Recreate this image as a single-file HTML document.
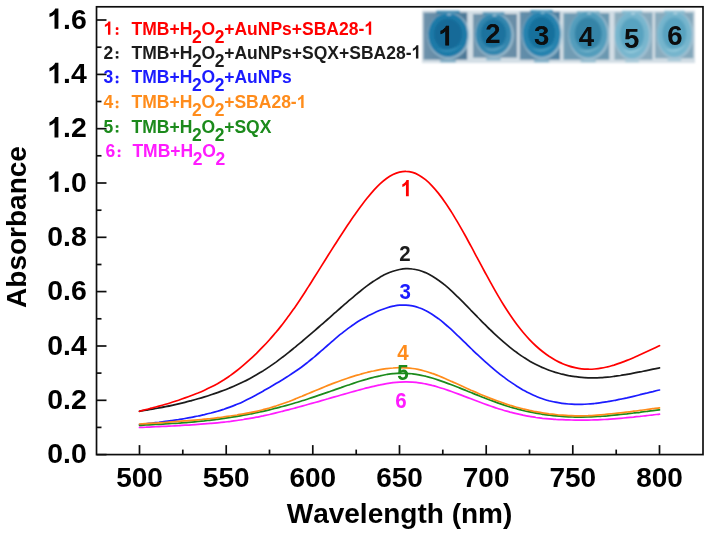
<!DOCTYPE html>
<html><head><meta charset="utf-8"><title>Absorbance spectra</title>
<style>
html,body{margin:0;padding:0;background:#fff;}
body{width:709px;height:534px;overflow:hidden;font-family:"Liberation Sans",sans-serif;}
svg{display:block;}
svg text{font-family:"Liberation Sans",sans-serif;font-weight:bold;}
</style></head><body>
<svg width="709" height="534" viewBox="0 0 709 534">
<defs>
<filter id="soft" x="-5%" y="-5%" width="110%" height="110%"><feGaussianBlur stdDeviation="0.55"/></filter>
<filter id="soft2" x="-5%" y="-5%" width="110%" height="110%"><feGaussianBlur stdDeviation="0.9"/></filter>
<radialGradient id="liqD" cx="50%" cy="55%" r="55%"><stop offset="0" stop-color="#1c7aa6"/><stop offset="0.6" stop-color="#1f83b0"/><stop offset="0.85" stop-color="#2a8db8"/><stop offset="1" stop-color="#4d9cc0"/></radialGradient>
<radialGradient id="liqL" cx="50%" cy="55%" r="55%"><stop offset="0" stop-color="#3d93b6"/><stop offset="0.6" stop-color="#4a9fc0"/><stop offset="0.85" stop-color="#5faccb"/><stop offset="1" stop-color="#86bcd2"/></radialGradient>
</defs>
<rect x="0" y="0" width="709" height="534" fill="#ffffff"/>

<g id="inset" filter="url(#soft2)">
<rect x="422" y="10.5" width="273" height="52.5" fill="#d3dee5"/>
<linearGradient id="bx0" x1="0" x2="1" y1="0" y2="0"><stop offset="0" stop-color="#6f93ac"/><stop offset="1" stop-color="#4a7695"/></linearGradient>
<radialGradient id="lq0" cx="50%" cy="48%" r="52%"><stop offset="0" stop-color="#136a98"/><stop offset="0.62" stop-color="#136a98"/><stop offset="0.74" stop-color="#1f7aa8"/><stop offset="1" stop-color="#1f7aa8"/></radialGradient>
<rect x="423.4" y="12.5" width="43.8" height="47.2" fill="url(#bx0)"/>
<rect x="436.1" y="10.7" width="23.8" height="3" fill="#1f7aa8" opacity="0.8"/>
<rect x="440.1" y="60.3" width="15.8" height="2" fill="#1f7aa8" opacity="0.55"/>
<ellipse cx="448.8" cy="35.8" rx="21.4" ry="23.4" fill="#a9c9da" opacity="0.7"/>
<ellipse cx="448.0" cy="35.0" rx="19.8" ry="22.0" fill="url(#lq0)"/>
<path d="M437.1,48.6 Q448.0,56.6 461.9,44.9 Q448.0,52.6 437.1,48.6 Z" fill="#3f9ac2" opacity="0.75"/>
<rect x="447.0" y="14.2" width="4" height="1" fill="#e8f2f7" opacity="0.8"/>
<linearGradient id="bx1" x1="0" x2="1" y1="0" y2="0"><stop offset="0" stop-color="#7195ad"/><stop offset="1" stop-color="#688da6"/></linearGradient>
<radialGradient id="lq1" cx="50%" cy="48%" r="52%"><stop offset="0" stop-color="#1a729e"/><stop offset="0.62" stop-color="#1a729e"/><stop offset="0.74" stop-color="#3386ae"/><stop offset="1" stop-color="#3386ae"/></radialGradient>
<rect x="473.0" y="14.0" width="44.0" height="43.6" fill="url(#bx1)"/>
<rect x="482.7" y="12.2" width="21.6" height="3" fill="#3386ae" opacity="0.8"/>
<rect x="486.3" y="58.2" width="14.4" height="2" fill="#3386ae" opacity="0.55"/>
<ellipse cx="494.3" cy="35.3" rx="19.6" ry="22.2" fill="#a9c9da" opacity="0.7"/>
<ellipse cx="493.5" cy="34.5" rx="18.0" ry="20.8" fill="url(#lq1)"/>
<path d="M483.6,47.4 Q493.5,54.9 506.1,43.9 Q493.5,51.1 483.6,47.4 Z" fill="#6aaccb" opacity="0.75"/>
<rect x="492.5" y="14.9" width="4" height="1" fill="#e8f2f7" opacity="0.8"/>
<linearGradient id="bx2" x1="0" x2="1" y1="0" y2="0"><stop offset="0" stop-color="#648eaa"/><stop offset="1" stop-color="#4b7fa0"/></linearGradient>
<radialGradient id="lq2" cx="50%" cy="48%" r="52%"><stop offset="0" stop-color="#17709c"/><stop offset="0.62" stop-color="#17709c"/><stop offset="0.74" stop-color="#2583af"/><stop offset="1" stop-color="#2583af"/></radialGradient>
<rect x="519.8" y="11.8" width="40.2" height="47.9" fill="url(#bx2)"/>
<rect x="530.2" y="10.0" width="22.8" height="3" fill="#2583af" opacity="0.8"/>
<rect x="534.0" y="60.3" width="15.2" height="2" fill="#2583af" opacity="0.55"/>
<ellipse cx="542.4" cy="34.8" rx="20.6" ry="24.2" fill="#a9c9da" opacity="0.7"/>
<ellipse cx="541.6" cy="34.0" rx="19.0" ry="22.8" fill="url(#lq2)"/>
<path d="M531.1,48.1 Q541.6,56.3 554.9,44.3 Q541.6,52.2 531.1,48.1 Z" fill="#58a9ca" opacity="0.75"/>
<rect x="540.6" y="12.4" width="4" height="1" fill="#e8f2f7" opacity="0.8"/>
<linearGradient id="bx3" x1="0" x2="1" y1="0" y2="0"><stop offset="0" stop-color="#719cb4"/><stop offset="1" stop-color="#6a97b0"/></linearGradient>
<radialGradient id="lq3" cx="50%" cy="48%" r="52%"><stop offset="0" stop-color="#3484a7"/><stop offset="0.62" stop-color="#3484a7"/><stop offset="0.74" stop-color="#529dbc"/><stop offset="1" stop-color="#529dbc"/></radialGradient>
<rect x="563.5" y="13.2" width="45.8" height="46.5" fill="url(#bx3)"/>
<rect x="576.8" y="11.4" width="22.8" height="3" fill="#529dbc" opacity="0.8"/>
<rect x="580.6" y="60.3" width="15.2" height="2" fill="#529dbc" opacity="0.55"/>
<ellipse cx="589.0" cy="35.4" rx="20.6" ry="24.4" fill="#a9c9da" opacity="0.7"/>
<ellipse cx="588.2" cy="34.6" rx="19.0" ry="23.0" fill="url(#lq3)"/>
<path d="M577.8,48.9 Q588.2,57.1 601.5,45.0 Q588.2,53.0 577.8,48.9 Z" fill="#80bdd3" opacity="0.75"/>
<rect x="587.2" y="12.8" width="4" height="1" fill="#e8f2f7" opacity="0.8"/>
<linearGradient id="bx4" x1="0" x2="1" y1="0" y2="0"><stop offset="0" stop-color="#8dadbe"/><stop offset="1" stop-color="#86a8bb"/></linearGradient>
<radialGradient id="lq4" cx="50%" cy="48%" r="52%"><stop offset="0" stop-color="#58a3c0"/><stop offset="0.62" stop-color="#58a3c0"/><stop offset="0.74" stop-color="#78b6ce"/><stop offset="1" stop-color="#78b6ce"/></radialGradient>
<rect x="614.5" y="12.5" width="38.0" height="47.2" fill="url(#bx4)"/>
<rect x="621.8" y="10.7" width="20.4" height="3" fill="#78b6ce" opacity="0.8"/>
<rect x="625.2" y="60.3" width="13.6" height="2" fill="#78b6ce" opacity="0.55"/>
<ellipse cx="632.8" cy="36.0" rx="18.6" ry="24.6" fill="#a9c9da" opacity="0.7"/>
<ellipse cx="632.0" cy="35.2" rx="17.0" ry="23.2" fill="url(#lq4)"/>
<path d="M622.6,49.6 Q632.0,57.9 643.9,45.6 Q632.0,53.8 622.6,49.6 Z" fill="#a2d4e3" opacity="0.75"/>
<rect x="631.0" y="13.2" width="4" height="1" fill="#e8f2f7" opacity="0.8"/>
<linearGradient id="bx5" x1="0" x2="1" y1="0" y2="0"><stop offset="0" stop-color="#8aacbe"/><stop offset="1" stop-color="#82a6ba"/></linearGradient>
<radialGradient id="lq5" cx="50%" cy="48%" r="52%"><stop offset="0" stop-color="#59a3c0"/><stop offset="0.62" stop-color="#59a3c0"/><stop offset="0.74" stop-color="#76b5cd"/><stop offset="1" stop-color="#76b5cd"/></radialGradient>
<rect x="655.0" y="12.5" width="38.4" height="45.8" fill="url(#bx5)"/>
<rect x="664.2" y="10.7" width="20.4" height="3" fill="#76b5cd" opacity="0.8"/>
<rect x="667.6" y="58.9" width="13.6" height="2" fill="#76b5cd" opacity="0.55"/>
<ellipse cx="675.2" cy="35.1" rx="18.6" ry="24.0" fill="#a9c9da" opacity="0.7"/>
<ellipse cx="674.4" cy="34.3" rx="17.0" ry="22.6" fill="url(#lq5)"/>
<path d="M665.0,48.3 Q674.4,56.4 686.3,44.5 Q674.4,52.4 665.0,48.3 Z" fill="#a2d4e3" opacity="0.75"/>
<rect x="673.4" y="12.9" width="4" height="1" fill="#e8f2f7" opacity="0.8"/>
</g>
<g filter="url(#soft)">
<path d="M449.08,45.60 L445.30,45.60 L445.30,31.38 Q443.23,33.31 440.43,34.24 L440.43,30.82 Q441.91,30.33 443.64,28.98 Q445.37,27.63 446.01,25.83 L449.08,25.83 Z" fill="#080808"/>
<text x="485.15" y="42.90" font-size="27.5" fill="#080808">2</text>
<text x="533.95" y="45.00" font-size="27.5" fill="#080808">3</text>
<text x="578.75" y="45.70" font-size="27.5" fill="#080808">4</text>
<text x="624.05" y="47.70" font-size="27.5" fill="#080808">5</text>
<text x="667.15" y="45.00" font-size="27.5" fill="#080808">6</text>
</g>
<g filter="url(#soft)">
<g stroke="#111" stroke-width="1.7" fill="none" stroke-linecap="butt">
<rect x="96.5" y="6.8" width="606.5" height="447.8"/>
<line x1="139.5" y1="454.6" x2="139.5" y2="445.1"/>
<line x1="182.8" y1="454.6" x2="182.8" y2="449.6"/>
<line x1="226.2" y1="454.6" x2="226.2" y2="445.1"/>
<line x1="269.5" y1="454.6" x2="269.5" y2="449.6"/>
<line x1="312.8" y1="454.6" x2="312.8" y2="445.1"/>
<line x1="356.2" y1="454.6" x2="356.2" y2="449.6"/>
<line x1="399.5" y1="454.6" x2="399.5" y2="445.1"/>
<line x1="442.8" y1="454.6" x2="442.8" y2="449.6"/>
<line x1="486.2" y1="454.6" x2="486.2" y2="445.1"/>
<line x1="529.5" y1="454.6" x2="529.5" y2="449.6"/>
<line x1="572.8" y1="454.6" x2="572.8" y2="445.1"/>
<line x1="616.2" y1="454.6" x2="616.2" y2="449.6"/>
<line x1="659.5" y1="454.6" x2="659.5" y2="445.1"/>
<line x1="96.5" y1="454.6" x2="106.5" y2="454.6"/>
<line x1="96.5" y1="427.4" x2="101.5" y2="427.4"/>
<line x1="96.5" y1="400.3" x2="106.5" y2="400.3"/>
<line x1="96.5" y1="373.1" x2="101.5" y2="373.1"/>
<line x1="96.5" y1="346.0" x2="106.5" y2="346.0"/>
<line x1="96.5" y1="318.8" x2="101.5" y2="318.8"/>
<line x1="96.5" y1="291.6" x2="106.5" y2="291.6"/>
<line x1="96.5" y1="264.5" x2="101.5" y2="264.5"/>
<line x1="96.5" y1="237.3" x2="106.5" y2="237.3"/>
<line x1="96.5" y1="210.2" x2="101.5" y2="210.2"/>
<line x1="96.5" y1="183.0" x2="106.5" y2="183.0"/>
<line x1="96.5" y1="155.8" x2="101.5" y2="155.8"/>
<line x1="96.5" y1="128.7" x2="106.5" y2="128.7"/>
<line x1="96.5" y1="101.5" x2="101.5" y2="101.5"/>
<line x1="96.5" y1="74.4" x2="106.5" y2="74.4"/>
<line x1="96.5" y1="47.2" x2="101.5" y2="47.2"/>
<line x1="96.5" y1="20.0" x2="106.5" y2="20.0"/>
</g>
<g fill="none" stroke-width="1.7" stroke-linejoin="round" stroke-linecap="round">
<path stroke="#1a1a1a" d="M139.5,411.3 C140.6,411.1 143.8,410.6 146.0,410.2 C148.2,409.8 150.3,409.4 152.5,409.1 C154.7,408.7 156.8,408.3 159.0,407.9 C161.2,407.5 163.3,407.1 165.5,406.6 C167.7,406.2 169.8,405.8 172.0,405.3 C174.2,404.8 176.3,404.3 178.5,403.8 C180.7,403.3 182.8,402.8 185.0,402.3 C187.2,401.8 189.3,401.2 191.5,400.6 C193.7,400.1 195.8,399.5 198.0,398.8 C200.2,398.2 202.3,397.6 204.5,396.9 C206.7,396.3 208.8,395.6 211.0,394.8 C213.2,394.1 215.3,393.4 217.5,392.6 C219.7,391.8 221.8,391.0 224.0,390.2 C226.2,389.4 228.3,388.5 230.5,387.6 C232.7,386.7 234.8,385.8 237.0,384.8 C239.2,383.8 241.3,382.8 243.5,381.7 C245.7,380.7 247.8,379.6 250.0,378.4 C252.2,377.3 254.3,376.1 256.5,374.8 C258.7,373.5 260.8,372.2 263.0,370.9 C265.2,369.5 267.3,368.1 269.5,366.6 C271.7,365.1 273.8,363.6 276.0,362.1 C278.2,360.5 280.3,358.9 282.5,357.2 C284.7,355.6 286.8,353.9 289.0,352.1 C291.2,350.4 293.3,348.6 295.5,346.9 C297.7,345.1 299.8,343.3 302.0,341.5 C304.2,339.6 306.3,337.8 308.5,335.9 C310.7,334.1 312.8,332.2 315.0,330.3 C317.2,328.5 319.3,326.6 321.5,324.7 C323.7,322.8 325.8,320.9 328.0,319.0 C330.2,317.1 332.3,315.1 334.5,313.2 C336.7,311.3 338.8,309.4 341.0,307.5 C343.2,305.6 345.3,303.7 347.5,301.8 C349.7,300.0 351.8,298.1 354.0,296.3 C356.2,294.5 358.3,292.7 360.5,291.0 C362.7,289.2 364.8,287.5 367.0,285.9 C369.2,284.3 371.3,282.8 373.5,281.3 C375.7,279.9 377.8,278.5 380.0,277.2 C382.2,276.0 384.3,274.8 386.5,273.8 C388.7,272.8 390.8,271.9 393.0,271.2 C395.2,270.5 397.3,269.9 399.5,269.5 C401.7,269.1 403.8,268.8 406.0,268.7 C408.2,268.6 410.3,268.7 412.5,269.0 C414.7,269.2 416.8,269.7 419.0,270.3 C421.2,270.9 423.3,271.7 425.5,272.6 C427.7,273.6 429.8,274.7 432.0,275.9 C434.2,277.2 436.3,278.6 438.5,280.2 C440.7,281.7 442.8,283.4 445.0,285.2 C447.2,287.0 449.3,288.9 451.5,290.9 C453.7,292.9 455.8,295.0 458.0,297.1 C460.2,299.2 462.3,301.4 464.5,303.6 C466.7,305.8 468.8,308.0 471.0,310.3 C473.2,312.5 475.3,314.7 477.5,317.0 C479.7,319.2 481.8,321.4 484.0,323.6 C486.2,325.7 488.3,327.9 490.5,330.0 C492.7,332.0 494.8,334.1 497.0,336.1 C499.2,338.1 501.3,340.0 503.5,341.9 C505.7,343.8 507.8,345.6 510.0,347.3 C512.2,349.1 514.3,350.8 516.5,352.3 C518.7,353.9 520.8,355.5 523.0,356.9 C525.2,358.3 527.3,359.7 529.5,361.0 C531.7,362.2 533.8,363.4 536.0,364.5 C538.2,365.6 540.3,366.7 542.5,367.6 C544.7,368.6 546.8,369.4 549.0,370.2 C551.2,371.0 553.3,371.7 555.5,372.4 C557.7,373.0 559.8,373.6 562.0,374.2 C564.2,374.7 566.3,375.1 568.5,375.6 C570.7,376.0 572.8,376.3 575.0,376.6 C577.2,376.9 579.3,377.2 581.5,377.4 C583.7,377.6 585.8,377.7 588.0,377.8 C590.2,377.9 592.3,377.9 594.5,377.9 C596.7,377.9 598.8,377.8 601.0,377.7 C603.2,377.5 605.3,377.4 607.5,377.2 C609.7,377.0 611.8,376.7 614.0,376.4 C616.2,376.1 618.3,375.8 620.5,375.5 C622.7,375.1 624.8,374.8 627.0,374.4 C629.2,374.0 631.3,373.6 633.5,373.2 C635.7,372.8 637.8,372.4 640.0,371.9 C642.2,371.5 644.3,371.0 646.5,370.6 C648.7,370.2 650.8,369.7 653.0,369.2 C655.2,368.8 658.4,368.1 659.5,367.9"/>
<path stroke="#ff0000" d="M139.5,411.2 C140.6,410.9 143.8,410.1 146.0,409.5 C148.2,409.0 150.3,408.4 152.5,407.9 C154.7,407.3 156.8,406.7 159.0,406.1 C161.2,405.5 163.3,404.9 165.5,404.3 C167.7,403.7 169.8,403.0 172.0,402.3 C174.2,401.6 176.3,400.9 178.5,400.2 C180.7,399.4 182.8,398.7 185.0,397.9 C187.2,397.1 189.3,396.3 191.5,395.5 C193.7,394.7 195.8,393.8 198.0,393.0 C200.2,392.1 202.3,391.2 204.5,390.2 C206.7,389.2 208.8,388.2 211.0,387.1 C213.2,386.0 215.3,384.9 217.5,383.7 C219.7,382.4 221.8,381.1 224.0,379.8 C226.2,378.4 228.3,376.9 230.5,375.4 C232.7,373.8 234.8,372.2 237.0,370.5 C239.2,368.8 241.3,367.0 243.5,365.1 C245.7,363.3 247.8,361.4 250.0,359.4 C252.2,357.4 254.3,355.4 256.5,353.3 C258.7,351.1 260.8,349.0 263.0,346.7 C265.2,344.5 267.3,342.2 269.5,339.7 C271.7,337.3 273.8,334.8 276.0,332.3 C278.2,329.7 280.3,327.0 282.5,324.2 C284.7,321.4 286.8,318.5 289.0,315.6 C291.2,312.6 293.3,309.5 295.5,306.4 C297.7,303.2 299.8,300.0 302.0,296.7 C304.2,293.4 306.3,290.0 308.5,286.6 C310.7,283.2 312.8,279.7 315.0,276.3 C317.2,272.8 319.3,269.4 321.5,265.9 C323.7,262.4 325.8,259.0 328.0,255.5 C330.2,252.1 332.3,248.7 334.5,245.3 C336.7,241.9 338.8,238.5 341.0,235.2 C343.2,231.9 345.3,228.6 347.5,225.3 C349.7,222.1 351.8,218.9 354.0,215.8 C356.2,212.7 358.3,209.7 360.5,206.7 C362.7,203.8 364.8,201.0 367.0,198.3 C369.2,195.6 371.3,193.0 373.5,190.6 C375.7,188.2 377.8,185.9 380.0,183.9 C382.2,181.9 384.3,180.1 386.5,178.5 C388.7,176.9 390.8,175.6 393.0,174.5 C395.2,173.4 397.3,172.6 399.5,172.1 C401.7,171.6 403.8,171.3 406.0,171.4 C408.2,171.4 410.3,171.8 412.5,172.4 C414.7,173.0 416.8,174.0 419.0,175.2 C421.2,176.4 423.3,177.9 425.5,179.7 C427.7,181.5 429.8,183.5 432.0,185.8 C434.2,188.1 436.3,190.6 438.5,193.4 C440.7,196.1 442.8,199.1 445.0,202.2 C447.2,205.3 449.3,208.7 451.5,212.1 C453.7,215.6 455.8,219.2 458.0,222.9 C460.2,226.6 462.3,230.5 464.5,234.3 C466.7,238.2 468.8,242.2 471.0,246.2 C473.2,250.2 475.3,254.3 477.5,258.4 C479.7,262.4 481.8,266.5 484.0,270.5 C486.2,274.5 488.3,278.5 490.5,282.4 C492.7,286.3 494.8,290.2 497.0,293.9 C499.2,297.6 501.3,301.3 503.5,304.8 C505.7,308.3 507.8,311.6 510.0,314.8 C512.2,318.1 514.3,321.1 516.5,324.1 C518.7,327.0 520.8,329.7 523.0,332.3 C525.2,334.9 527.3,337.3 529.5,339.6 C531.7,341.9 533.8,344.0 536.0,346.0 C538.2,348.0 540.3,349.8 542.5,351.5 C544.7,353.2 546.8,354.8 549.0,356.3 C551.2,357.7 553.3,359.0 555.5,360.2 C557.7,361.4 559.8,362.5 562.0,363.4 C564.2,364.4 566.3,365.2 568.5,365.9 C570.7,366.7 572.8,367.2 575.0,367.7 C577.2,368.2 579.3,368.6 581.5,368.8 C583.7,369.1 585.8,369.2 588.0,369.2 C590.2,369.3 592.3,369.2 594.5,369.0 C596.7,368.8 598.8,368.6 601.0,368.2 C603.2,367.9 605.3,367.4 607.5,366.9 C609.7,366.4 611.8,365.7 614.0,365.1 C616.2,364.4 618.3,363.7 620.5,362.9 C622.7,362.1 624.8,361.3 627.0,360.4 C629.2,359.6 631.3,358.7 633.5,357.7 C635.7,356.8 637.8,355.8 640.0,354.8 C642.2,353.8 644.3,352.8 646.5,351.8 C648.7,350.8 650.8,349.8 653.0,348.8 C655.2,347.8 658.4,346.2 659.5,345.7"/>
<path stroke="#1a1aff" d="M139.5,424.5 C140.6,424.4 143.8,424.0 146.0,423.8 C148.2,423.5 150.3,423.3 152.5,423.0 C154.7,422.8 156.8,422.5 159.0,422.3 C161.2,422.0 163.3,421.7 165.5,421.4 C167.7,421.2 169.8,420.9 172.0,420.6 C174.2,420.2 176.3,419.9 178.5,419.6 C180.7,419.2 182.8,418.9 185.0,418.5 C187.2,418.1 189.3,417.7 191.5,417.3 C193.7,416.9 195.8,416.4 198.0,416.0 C200.2,415.5 202.3,415.1 204.5,414.6 C206.7,414.0 208.8,413.5 211.0,413.0 C213.2,412.4 215.3,411.8 217.5,411.2 C219.7,410.6 221.8,409.9 224.0,409.2 C226.2,408.5 228.3,407.7 230.5,406.9 C232.7,406.1 234.8,405.2 237.0,404.3 C239.2,403.4 241.3,402.5 243.5,401.4 C245.7,400.4 247.8,399.4 250.0,398.3 C252.2,397.2 254.3,396.0 256.5,394.8 C258.7,393.6 260.8,392.4 263.0,391.2 C265.2,390.0 267.3,388.7 269.5,387.5 C271.7,386.2 273.8,384.9 276.0,383.6 C278.2,382.3 280.3,381.0 282.5,379.7 C284.7,378.4 286.8,377.0 289.0,375.6 C291.2,374.2 293.3,372.8 295.5,371.3 C297.7,369.8 299.8,368.3 302.0,366.7 C304.2,365.1 306.3,363.4 308.5,361.7 C310.7,359.9 312.8,358.1 315.0,356.3 C317.2,354.5 319.3,352.6 321.5,350.7 C323.7,348.8 325.8,346.9 328.0,345.0 C330.2,343.1 332.3,341.2 334.5,339.3 C336.7,337.5 338.8,335.6 341.0,333.9 C343.2,332.2 345.3,330.5 347.5,328.9 C349.7,327.3 351.8,325.7 354.0,324.3 C356.2,322.8 358.3,321.4 360.5,320.1 C362.7,318.8 364.8,317.6 367.0,316.4 C369.2,315.3 371.3,314.2 373.5,313.2 C375.7,312.1 377.8,311.2 380.0,310.3 C382.2,309.4 384.3,308.7 386.5,308.0 C388.7,307.3 390.8,306.7 393.0,306.2 C395.2,305.8 397.3,305.4 399.5,305.2 C401.7,305.1 403.8,305.0 406.0,305.1 C408.2,305.2 410.3,305.5 412.5,305.9 C414.7,306.3 416.8,306.9 419.0,307.7 C421.2,308.4 423.3,309.4 425.5,310.5 C427.7,311.5 429.8,312.8 432.0,314.2 C434.2,315.6 436.3,317.1 438.5,318.7 C440.7,320.4 442.8,322.1 445.0,324.0 C447.2,325.8 449.3,327.8 451.5,329.7 C453.7,331.7 455.8,333.8 458.0,335.9 C460.2,337.9 462.3,340.1 464.5,342.2 C466.7,344.3 468.8,346.4 471.0,348.5 C473.2,350.6 475.3,352.7 477.5,354.7 C479.7,356.7 481.8,358.7 484.0,360.7 C486.2,362.6 488.3,364.6 490.5,366.4 C492.7,368.3 494.8,370.1 497.0,371.8 C499.2,373.6 501.3,375.3 503.5,376.9 C505.7,378.5 507.8,380.1 510.0,381.6 C512.2,383.1 514.3,384.6 516.5,386.0 C518.7,387.3 520.8,388.6 523.0,389.9 C525.2,391.1 527.3,392.3 529.5,393.3 C531.7,394.4 533.8,395.4 536.0,396.3 C538.2,397.2 540.3,398.1 542.5,398.8 C544.7,399.5 546.8,400.2 549.0,400.8 C551.2,401.3 553.3,401.8 555.5,402.2 C557.7,402.7 559.8,403.0 562.0,403.3 C564.2,403.6 566.3,403.8 568.5,404.0 C570.7,404.1 572.8,404.2 575.0,404.3 C577.2,404.4 579.3,404.3 581.5,404.3 C583.7,404.3 585.8,404.2 588.0,404.0 C590.2,403.9 592.3,403.7 594.5,403.5 C596.7,403.2 598.8,403.0 601.0,402.7 C603.2,402.4 605.3,402.0 607.5,401.7 C609.7,401.3 611.8,400.9 614.0,400.5 C616.2,400.1 618.3,399.6 620.5,399.2 C622.7,398.7 624.8,398.2 627.0,397.8 C629.2,397.3 631.3,396.8 633.5,396.3 C635.7,395.8 637.8,395.3 640.0,394.7 C642.2,394.2 644.3,393.7 646.5,393.2 C648.7,392.6 650.8,392.1 653.0,391.6 C655.2,391.0 658.4,390.2 659.5,390.0"/>
<path stroke="#ff1aff" d="M139.5,427.4 C140.6,427.4 143.8,427.2 146.0,427.2 C148.2,427.1 150.3,427.0 152.5,426.9 C154.7,426.8 156.8,426.7 159.0,426.6 C161.2,426.5 163.3,426.4 165.5,426.3 C167.7,426.2 169.8,426.1 172.0,426.0 C174.2,425.8 176.3,425.7 178.5,425.6 C180.7,425.5 182.8,425.3 185.0,425.2 C187.2,425.1 189.3,425.0 191.5,424.8 C193.7,424.7 195.8,424.6 198.0,424.4 C200.2,424.3 202.3,424.1 204.5,423.9 C206.7,423.8 208.8,423.6 211.0,423.4 C213.2,423.2 215.3,423.0 217.5,422.8 C219.7,422.6 221.8,422.4 224.0,422.1 C226.2,421.9 228.3,421.6 230.5,421.4 C232.7,421.1 234.8,420.8 237.0,420.5 C239.2,420.2 241.3,419.8 243.5,419.5 C245.7,419.1 247.8,418.8 250.0,418.4 C252.2,418.0 254.3,417.6 256.5,417.2 C258.7,416.8 260.8,416.3 263.0,415.9 C265.2,415.4 267.3,414.9 269.5,414.5 C271.7,414.0 273.8,413.5 276.0,412.9 C278.2,412.4 280.3,411.9 282.5,411.3 C284.7,410.8 286.8,410.2 289.0,409.6 C291.2,409.1 293.3,408.5 295.5,407.9 C297.7,407.3 299.8,406.7 302.0,406.1 C304.2,405.5 306.3,404.9 308.5,404.3 C310.7,403.7 312.8,403.1 315.0,402.5 C317.2,401.9 319.3,401.3 321.5,400.6 C323.7,400.0 325.8,399.4 328.0,398.8 C330.2,398.1 332.3,397.5 334.5,396.9 C336.7,396.3 338.8,395.7 341.0,395.0 C343.2,394.4 345.3,393.8 347.5,393.2 C349.7,392.6 351.8,392.0 354.0,391.4 C356.2,390.8 358.3,390.2 360.5,389.6 C362.7,389.0 364.8,388.5 367.0,387.9 C369.2,387.4 371.3,386.8 373.5,386.3 C375.7,385.8 377.8,385.3 380.0,384.9 C382.2,384.4 384.3,384.0 386.5,383.6 C388.7,383.3 390.8,383.0 393.0,382.7 C395.2,382.4 397.3,382.2 399.5,382.1 C401.7,382.0 403.8,381.9 406.0,381.9 C408.2,381.9 410.3,382.0 412.5,382.1 C414.7,382.3 416.8,382.5 419.0,382.8 C421.2,383.1 423.3,383.5 425.5,383.9 C427.7,384.3 429.8,384.8 432.0,385.4 C434.2,385.9 436.3,386.5 438.5,387.2 C440.7,387.8 442.8,388.5 445.0,389.2 C447.2,390.0 449.3,390.7 451.5,391.5 C453.7,392.3 455.8,393.1 458.0,393.9 C460.2,394.7 462.3,395.5 464.5,396.4 C466.7,397.2 468.8,398.0 471.0,398.8 C473.2,399.7 475.3,400.5 477.5,401.3 C479.7,402.1 481.8,402.9 484.0,403.7 C486.2,404.5 488.3,405.2 490.5,406.0 C492.7,406.7 494.8,407.5 497.0,408.2 C499.2,408.9 501.3,409.5 503.5,410.2 C505.7,410.8 507.8,411.5 510.0,412.1 C512.2,412.6 514.3,413.2 516.5,413.7 C518.7,414.2 520.8,414.7 523.0,415.2 C525.2,415.6 527.3,416.0 529.5,416.4 C531.7,416.8 533.8,417.1 536.0,417.5 C538.2,417.8 540.3,418.0 542.5,418.3 C544.7,418.5 546.8,418.7 549.0,418.9 C551.2,419.1 553.3,419.2 555.5,419.4 C557.7,419.5 559.8,419.6 562.0,419.7 C564.2,419.8 566.3,419.9 568.5,419.9 C570.7,420.0 572.8,420.0 575.0,420.1 C577.2,420.1 579.3,420.1 581.5,420.1 C583.7,420.1 585.8,420.1 588.0,420.1 C590.2,420.0 592.3,420.0 594.5,419.9 C596.7,419.8 598.8,419.8 601.0,419.7 C603.2,419.6 605.3,419.4 607.5,419.3 C609.7,419.2 611.8,419.0 614.0,418.8 C616.2,418.7 618.3,418.5 620.5,418.3 C622.7,418.1 624.8,417.9 627.0,417.7 C629.2,417.5 631.3,417.3 633.5,417.1 C635.7,416.8 637.8,416.6 640.0,416.4 C642.2,416.1 644.3,415.9 646.5,415.6 C648.7,415.4 650.8,415.1 653.0,414.9 C655.2,414.6 658.4,414.3 659.5,414.1"/>
<path stroke="#1a8a1a" d="M139.5,425.3 C140.6,425.3 143.8,425.1 146.0,425.0 C148.2,424.9 150.3,424.8 152.5,424.7 C154.7,424.6 156.8,424.4 159.0,424.3 C161.2,424.2 163.3,424.1 165.5,423.9 C167.7,423.8 169.8,423.7 172.0,423.5 C174.2,423.4 176.3,423.2 178.5,423.1 C180.7,422.9 182.8,422.8 185.0,422.6 C187.2,422.4 189.3,422.3 191.5,422.1 C193.7,421.9 195.8,421.7 198.0,421.5 C200.2,421.3 202.3,421.1 204.5,420.9 C206.7,420.6 208.8,420.4 211.0,420.1 C213.2,419.9 215.3,419.6 217.5,419.3 C219.7,419.1 221.8,418.8 224.0,418.4 C226.2,418.1 228.3,417.8 230.5,417.5 C232.7,417.1 234.8,416.8 237.0,416.4 C239.2,416.0 241.3,415.6 243.5,415.2 C245.7,414.8 247.8,414.4 250.0,414.0 C252.2,413.6 254.3,413.1 256.5,412.7 C258.7,412.2 260.8,411.8 263.0,411.3 C265.2,410.8 267.3,410.3 269.5,409.8 C271.7,409.3 273.8,408.7 276.0,408.2 C278.2,407.6 280.3,407.1 282.5,406.5 C284.7,405.9 286.8,405.3 289.0,404.7 C291.2,404.1 293.3,403.5 295.5,402.8 C297.7,402.2 299.8,401.5 302.0,400.8 C304.2,400.2 306.3,399.5 308.5,398.8 C310.7,398.1 312.8,397.4 315.0,396.6 C317.2,395.9 319.3,395.2 321.5,394.4 C323.7,393.7 325.8,392.9 328.0,392.1 C330.2,391.4 332.3,390.6 334.5,389.9 C336.7,389.1 338.8,388.3 341.0,387.6 C343.2,386.8 345.3,386.0 347.5,385.3 C349.7,384.6 351.8,383.8 354.0,383.1 C356.2,382.4 358.3,381.7 360.5,381.0 C362.7,380.3 364.8,379.7 367.0,379.1 C369.2,378.4 371.3,377.8 373.5,377.3 C375.7,376.7 377.8,376.2 380.0,375.8 C382.2,375.3 384.3,374.9 386.5,374.5 C388.7,374.2 390.8,373.9 393.0,373.7 C395.2,373.5 397.3,373.3 399.5,373.2 C401.7,373.2 403.8,373.2 406.0,373.3 C408.2,373.4 410.3,373.6 412.5,373.8 C414.7,374.1 416.8,374.4 419.0,374.8 C421.2,375.2 423.3,375.7 425.5,376.2 C427.7,376.8 429.8,377.4 432.0,378.0 C434.2,378.7 436.3,379.4 438.5,380.1 C440.7,380.8 442.8,381.6 445.0,382.4 C447.2,383.2 449.3,384.0 451.5,384.8 C453.7,385.6 455.8,386.5 458.0,387.3 C460.2,388.2 462.3,389.1 464.5,389.9 C466.7,390.8 468.8,391.7 471.0,392.5 C473.2,393.4 475.3,394.3 477.5,395.1 C479.7,396.0 481.8,396.9 484.0,397.7 C486.2,398.6 488.3,399.4 490.5,400.2 C492.7,401.0 494.8,401.8 497.0,402.6 C499.2,403.4 501.3,404.2 503.5,404.9 C505.7,405.6 507.8,406.3 510.0,407.0 C512.2,407.6 514.3,408.2 516.5,408.8 C518.7,409.4 520.8,410.0 523.0,410.5 C525.2,411.0 527.3,411.5 529.5,411.9 C531.7,412.4 533.8,412.8 536.0,413.2 C538.2,413.6 540.3,413.9 542.5,414.3 C544.7,414.6 546.8,414.9 549.0,415.1 C551.2,415.4 553.3,415.7 555.5,415.9 C557.7,416.1 559.8,416.3 562.0,416.4 C564.2,416.6 566.3,416.7 568.5,416.8 C570.7,417.0 572.8,417.0 575.0,417.1 C577.2,417.1 579.3,417.1 581.5,417.1 C583.7,417.1 585.8,417.1 588.0,417.0 C590.2,416.9 592.3,416.8 594.5,416.7 C596.7,416.6 598.8,416.4 601.0,416.3 C603.2,416.1 605.3,415.9 607.5,415.8 C609.7,415.6 611.8,415.4 614.0,415.1 C616.2,414.9 618.3,414.7 620.5,414.5 C622.7,414.2 624.8,414.0 627.0,413.8 C629.2,413.5 631.3,413.3 633.5,413.0 C635.7,412.8 637.8,412.5 640.0,412.3 C642.2,412.0 644.3,411.7 646.5,411.5 C648.7,411.2 650.8,410.9 653.0,410.7 C655.2,410.4 658.4,410.0 659.5,409.9"/>
<path stroke="#ff8c1a" d="M139.5,424.0 C140.6,424.0 143.8,423.8 146.0,423.6 C148.2,423.5 150.3,423.4 152.5,423.2 C154.7,423.1 156.8,423.0 159.0,422.8 C161.2,422.7 163.3,422.5 165.5,422.4 C167.7,422.2 169.8,422.1 172.0,421.9 C174.2,421.8 176.3,421.6 178.5,421.4 C180.7,421.3 182.8,421.1 185.0,420.9 C187.2,420.7 189.3,420.6 191.5,420.4 C193.7,420.2 195.8,420.0 198.0,419.8 C200.2,419.6 202.3,419.4 204.5,419.2 C206.7,419.0 208.8,418.7 211.0,418.5 C213.2,418.3 215.3,418.0 217.5,417.7 C219.7,417.5 221.8,417.2 224.0,416.9 C226.2,416.6 228.3,416.3 230.5,416.0 C232.7,415.7 234.8,415.3 237.0,415.0 C239.2,414.6 241.3,414.3 243.5,413.9 C245.7,413.5 247.8,413.1 250.0,412.6 C252.2,412.2 254.3,411.8 256.5,411.3 C258.7,410.8 260.8,410.3 263.0,409.7 C265.2,409.2 267.3,408.6 269.5,408.0 C271.7,407.4 273.8,406.7 276.0,406.0 C278.2,405.3 280.3,404.6 282.5,403.8 C284.7,403.1 286.8,402.3 289.0,401.5 C291.2,400.6 293.3,399.8 295.5,398.9 C297.7,398.0 299.8,397.1 302.0,396.3 C304.2,395.4 306.3,394.4 308.5,393.5 C310.7,392.6 312.8,391.7 315.0,390.8 C317.2,389.9 319.3,389.0 321.5,388.1 C323.7,387.2 325.8,386.3 328.0,385.4 C330.2,384.6 332.3,383.7 334.5,382.9 C336.7,382.1 338.8,381.3 341.0,380.5 C343.2,379.7 345.3,378.9 347.5,378.2 C349.7,377.5 351.8,376.8 354.0,376.1 C356.2,375.5 358.3,374.8 360.5,374.2 C362.7,373.6 364.8,373.0 367.0,372.5 C369.2,372.0 371.3,371.4 373.5,371.0 C375.7,370.5 377.8,370.1 380.0,369.7 C382.2,369.3 384.3,369.0 386.5,368.7 C388.7,368.4 390.8,368.1 393.0,368.0 C395.2,367.8 397.3,367.7 399.5,367.7 C401.7,367.7 403.8,367.7 406.0,367.8 C408.2,368.0 410.3,368.2 412.5,368.5 C414.7,368.8 416.8,369.2 419.0,369.6 C421.2,370.1 423.3,370.7 425.5,371.3 C427.7,371.9 429.8,372.6 432.0,373.4 C434.2,374.1 436.3,375.0 438.5,375.8 C440.7,376.7 442.8,377.6 445.0,378.5 C447.2,379.4 449.3,380.4 451.5,381.4 C453.7,382.3 455.8,383.3 458.0,384.3 C460.2,385.3 462.3,386.3 464.5,387.3 C466.7,388.2 468.8,389.2 471.0,390.2 C473.2,391.1 475.3,392.1 477.5,393.0 C479.7,394.0 481.8,394.9 484.0,395.8 C486.2,396.7 488.3,397.5 490.5,398.4 C492.7,399.2 494.8,400.0 497.0,400.8 C499.2,401.6 501.3,402.4 503.5,403.1 C505.7,403.9 507.8,404.6 510.0,405.2 C512.2,405.9 514.3,406.6 516.5,407.2 C518.7,407.8 520.8,408.3 523.0,408.9 C525.2,409.4 527.3,409.9 529.5,410.4 C531.7,410.8 533.8,411.3 536.0,411.7 C538.2,412.1 540.3,412.5 542.5,412.8 C544.7,413.1 546.8,413.5 549.0,413.8 C551.2,414.0 553.3,414.3 555.5,414.5 C557.7,414.8 559.8,415.0 562.0,415.1 C564.2,415.3 566.3,415.5 568.5,415.6 C570.7,415.7 572.8,415.7 575.0,415.8 C577.2,415.8 579.3,415.8 581.5,415.8 C583.7,415.8 585.8,415.7 588.0,415.7 C590.2,415.6 592.3,415.5 594.5,415.3 C596.7,415.2 598.8,415.0 601.0,414.8 C603.2,414.6 605.3,414.4 607.5,414.2 C609.7,414.0 611.8,413.8 614.0,413.5 C616.2,413.3 618.3,413.1 620.5,412.8 C622.7,412.6 624.8,412.3 627.0,412.0 C629.2,411.8 631.3,411.5 633.5,411.2 C635.7,411.0 637.8,410.7 640.0,410.4 C642.2,410.1 644.3,409.9 646.5,409.6 C648.7,409.3 650.8,409.0 653.0,408.7 C655.2,408.4 658.4,408.0 659.5,407.8"/>
</g>
<text x="47.22 63.01 70.91" y="463.40" font-size="28.4" fill="#000">0.0</text>
<text x="47.22 63.01 70.91" y="409.08" font-size="28.4" fill="#000">0.2</text>
<text x="47.22 63.01 70.91" y="354.76" font-size="28.4" fill="#000">0.4</text>
<text x="47.22 63.01 70.91" y="300.44" font-size="28.4" fill="#000">0.6</text>
<text x="47.22 63.01 70.91" y="246.12" font-size="28.4" fill="#000">0.8</text>
<text x="63.01 70.91" y="191.80" font-size="28.4" fill="#000">.0</text><path d="M58.40,191.80 L54.50,191.80 L54.50,177.11 Q52.36,179.11 49.47,180.07 L49.47,176.53 Q50.99,176.03 52.78,174.64 Q54.57,173.25 55.24,171.39 L58.40,171.39 Z" fill="#000"/>
<text x="63.01 70.91" y="137.48" font-size="28.4" fill="#000">.2</text><path d="M58.40,137.48 L54.50,137.48 L54.50,122.79 Q52.36,124.79 49.47,125.75 L49.47,122.21 Q50.99,121.71 52.78,120.32 Q54.57,118.93 55.24,117.07 L58.40,117.07 Z" fill="#000"/>
<text x="63.01 70.91" y="83.16" font-size="28.4" fill="#000">.4</text><path d="M58.40,83.16 L54.50,83.16 L54.50,68.47 Q52.36,70.47 49.47,71.43 L49.47,67.89 Q50.99,67.39 52.78,66.00 Q54.57,64.61 55.24,62.75 L58.40,62.75 Z" fill="#000"/>
<text x="63.01 70.91" y="28.84" font-size="28.4" fill="#000">.6</text><path d="M58.40,28.84 L54.50,28.84 L54.50,14.15 Q52.36,16.15 49.47,17.11 L49.47,13.57 Q50.99,13.07 52.78,11.68 Q54.57,10.29 55.24,8.43 L58.40,8.43 Z" fill="#000"/>
<text x="116.14 131.71 147.29" y="487.30" font-size="28" fill="#000">500</text>
<text x="202.81 218.38 233.95" y="487.30" font-size="28" fill="#000">550</text>
<text x="289.47 305.04 320.62" y="487.30" font-size="28" fill="#000">600</text>
<text x="376.14 391.71 407.28" y="487.30" font-size="28" fill="#000">650</text>
<text x="462.80 478.37 493.95" y="487.30" font-size="28" fill="#000">700</text>
<text x="549.47 565.04 580.61" y="487.30" font-size="28" fill="#000">750</text>
<text x="636.13 651.70 667.28" y="487.30" font-size="28" fill="#000">800</text>
<text x="286.72 313.15 328.72 344.29 359.87 367.64 383.22 400.32 417.42 426.75 451.63 460.96 478.06 502.96" y="522.80" font-size="28" fill="#000">Wavelength(nm)</text>
<g transform="translate(26,227) rotate(-90)"><text x="-80.91 -60.69 -43.59 -28.01 -10.91 -0.01 17.09 32.66 49.77 65.34" y="0.00" font-size="28" fill="#000">Absorbance</text></g>
<g transform="translate(0,34.70) scale(1,1.05)">
<path d="M110.39,0.00 L107.99,0.00 L107.99,-9.05 Q106.67,-7.82 104.88,-7.23 L104.88,-9.41 Q105.82,-9.72 106.93,-10.57 Q108.03,-11.43 108.44,-12.58 L110.39,-12.58 Z" fill="#ff0000"/>
<rect x="115.8" y="-7.0" width="2.6" height="2.5" rx="0.6" fill="#ff0000"/><rect x="115.8" y="-2.4" width="2.6" height="2.5" rx="0.6" fill="#ff0000"/>
<text x="131.60 142.29 156.87 169.51 179.72" y="0.00" font-size="17.5" fill="#ff0000">TMB+H</text>
<text x="192.06" y="7.70" font-size="17.5" fill="#ff0000">2</text>
<text x="201.50" y="0.00" font-size="17.5" fill="#ff0000">O</text>
<text x="214.81" y="7.70" font-size="17.5" fill="#ff0000">2</text>
<text x="224.24 234.46 247.10 257.79 270.43 282.10 291.83 302.05 313.72 326.36 339.00 348.73 358.46" y="0.00" font-size="17.5" fill="#ff0000">+AuNPs+SBA28-</text><path d="M371.18,0.00 L368.78,0.00 L368.78,-9.05 Q367.46,-7.82 365.68,-7.23 L365.68,-9.41 Q366.62,-9.72 367.72,-10.57 Q368.82,-11.43 369.23,-12.58 L371.18,-12.58 Z" fill="#ff0000"/>
</g>
<g transform="translate(0,58.50) scale(1,1.05)">
<text x="103.50" y="0.00" font-size="17.5" fill="#1a1a1a">2</text>
<rect x="115.8" y="-7.0" width="2.6" height="2.5" rx="0.6" fill="#1a1a1a"/><rect x="115.8" y="-2.4" width="2.6" height="2.5" rx="0.6" fill="#1a1a1a"/>
<text x="131.60 142.29 156.87 169.51 179.72" y="0.00" font-size="17.5" fill="#1a1a1a">TMB+H</text>
<text x="192.06" y="7.70" font-size="17.5" fill="#1a1a1a">2</text>
<text x="201.50" y="0.00" font-size="17.5" fill="#1a1a1a">O</text>
<text x="214.81" y="7.70" font-size="17.5" fill="#1a1a1a">2</text>
<text x="224.24 234.46 247.10 257.79 270.43 282.10 291.83 302.05 313.72 327.33 339.01 349.23 360.90 373.54 386.18 395.91 405.64" y="0.00" font-size="17.5" fill="#1a1a1a">+AuNPs+SQX+SBA28-</text><path d="M418.36,0.00 L415.95,0.00 L415.95,-9.05 Q414.64,-7.82 412.85,-7.23 L412.85,-9.41 Q413.79,-9.72 414.89,-10.57 Q416.00,-11.43 416.41,-12.58 L418.36,-12.58 Z" fill="#1a1a1a"/>
</g>
<g transform="translate(0,83.10) scale(1,1.05)">
<text x="103.50" y="0.00" font-size="17.5" fill="#1a1aff">3</text>
<rect x="115.8" y="-7.0" width="2.6" height="2.5" rx="0.6" fill="#1a1aff"/><rect x="115.8" y="-2.4" width="2.6" height="2.5" rx="0.6" fill="#1a1aff"/>
<text x="131.60 142.29 156.87 169.51 179.72" y="0.00" font-size="17.5" fill="#1a1aff">TMB+H</text>
<text x="192.06" y="7.70" font-size="17.5" fill="#1a1aff">2</text>
<text x="201.50" y="0.00" font-size="17.5" fill="#1a1aff">O</text>
<text x="214.81" y="7.70" font-size="17.5" fill="#1a1aff">2</text>
<text x="224.24 234.46 247.10 257.79 270.43 282.10" y="0.00" font-size="17.5" fill="#1a1aff">+AuNPs</text>
</g>
<g transform="translate(0,108.10) scale(1,1.05)">
<text x="103.50" y="0.00" font-size="17.5" fill="#ff8c1a">4</text>
<rect x="115.8" y="-7.0" width="2.6" height="2.5" rx="0.6" fill="#ff8c1a"/><rect x="115.8" y="-2.4" width="2.6" height="2.5" rx="0.6" fill="#ff8c1a"/>
<text x="131.60 142.29 156.87 169.51 179.72" y="0.00" font-size="17.5" fill="#ff8c1a">TMB+H</text>
<text x="192.06" y="7.70" font-size="17.5" fill="#ff8c1a">2</text>
<text x="201.50" y="0.00" font-size="17.5" fill="#ff8c1a">O</text>
<text x="214.81" y="7.70" font-size="17.5" fill="#ff8c1a">2</text>
<text x="224.24 234.46 246.13 258.77 271.41 281.14 290.87" y="0.00" font-size="17.5" fill="#ff8c1a">+SBA28-</text><path d="M303.59,0.00 L301.19,0.00 L301.19,-9.05 Q299.87,-7.82 298.09,-7.23 L298.09,-9.41 Q299.03,-9.72 300.13,-10.57 Q301.23,-11.43 301.64,-12.58 L303.59,-12.58 Z" fill="#ff8c1a"/>
</g>
<g transform="translate(0,132.50) scale(1,1.05)">
<text x="103.50" y="0.00" font-size="17.5" fill="#1a8a1a">5</text>
<rect x="115.8" y="-7.0" width="2.6" height="2.5" rx="0.6" fill="#1a8a1a"/><rect x="115.8" y="-2.4" width="2.6" height="2.5" rx="0.6" fill="#1a8a1a"/>
<text x="131.60 142.29 156.87 169.51 179.72" y="0.00" font-size="17.5" fill="#1a8a1a">TMB+H</text>
<text x="192.06" y="7.70" font-size="17.5" fill="#1a8a1a">2</text>
<text x="201.50" y="0.00" font-size="17.5" fill="#1a8a1a">O</text>
<text x="214.81" y="7.70" font-size="17.5" fill="#1a8a1a">2</text>
<text x="224.24 234.46 246.13 259.74" y="0.00" font-size="17.5" fill="#1a8a1a">+SQX</text>
</g>
<g transform="translate(0,156.90) scale(1,1.05)">
<text x="105.50" y="0.00" font-size="17.5" fill="#ff1aff">6</text>
<rect x="117.8" y="-7.0" width="2.6" height="2.5" rx="0.6" fill="#ff1aff"/><rect x="117.8" y="-2.4" width="2.6" height="2.5" rx="0.6" fill="#ff1aff"/>
<text x="132.40 143.09 157.67 170.31 180.53" y="0.00" font-size="17.5" fill="#ff1aff">TMB+H</text>
<text x="192.86" y="7.70" font-size="17.5" fill="#ff1aff">2</text>
<text x="202.30" y="0.00" font-size="17.5" fill="#ff1aff">O</text>
<text x="215.61" y="7.70" font-size="17.5" fill="#ff1aff">2</text>

</g>
<g transform="translate(406.40,196.30) scale(1,1.1)"><path d="M2.37,0.00 L-0.45,0.00 L-0.45,-10.60 Q-1.99,-9.16 -4.08,-8.47 L-4.08,-11.02 Q-2.98,-11.38 -1.69,-12.39 Q-0.40,-13.39 0.09,-14.73 L2.37,-14.73 Z" fill="#ff0000"/></g>
<g transform="translate(404.90,260.60) scale(1,1.1)"><text x="-5.70" y="0.00" font-size="20.5" fill="#1a1a1a">2</text></g>
<g transform="translate(405.30,298.90) scale(1,1.1)"><text x="-5.70" y="0.00" font-size="20.5" fill="#1a1aff">3</text></g>
<g transform="translate(403.00,359.80) scale(1,1.1)"><text x="-5.70" y="0.00" font-size="20.5" fill="#ff8c1a">4</text></g>
<g transform="translate(402.90,380.00) scale(1,1.1)"><text x="-5.70" y="0.00" font-size="20.5" fill="#1a8a1a">5</text></g>
<g transform="translate(401.00,408.40) scale(1,1.1)"><text x="-5.70" y="0.00" font-size="20.5" fill="#ff1aff">6</text></g>
</g>
</svg>
</body></html>
